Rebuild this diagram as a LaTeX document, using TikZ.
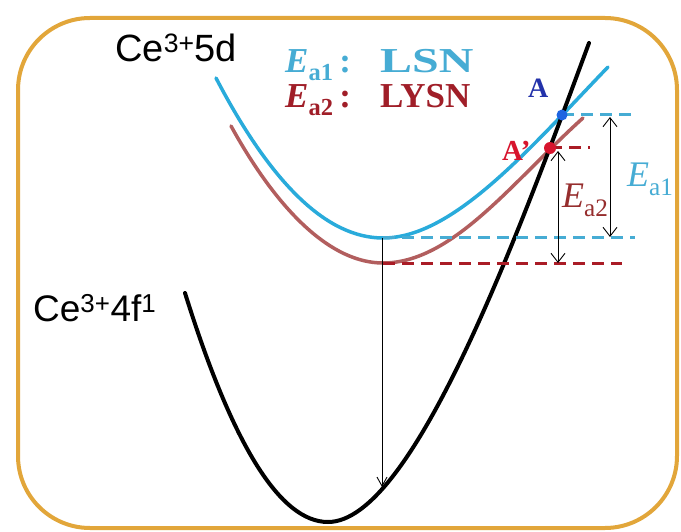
\documentclass[tikz,border=0pt]{standalone}
\usepackage{fontspec}
\usepackage{graphicx}
\setmainfont{Liberation Serif}
\newfontfamily\arialf{Liberation Sans}
\usetikzlibrary{arrows.meta}
\definecolor{frameor}{RGB}{226,166,58}
\definecolor{cyanc}{RGB}{41,171,219}
\definecolor{cyand}{RGB}{70,172,212}
\definecolor{rosec}{RGB}{178,94,94}
\definecolor{redd}{RGB}{170,28,38}
\definecolor{redt}{RGB}{160,30,40}
\definecolor{ea2c}{RGB}{150,45,45}
\definecolor{ablue}{RGB}{35,50,170}
\definecolor{dotblue}{RGB}{30,100,225}
\definecolor{dotred}{RGB}{215,20,45}
\tikzset{
  frame/.style={draw=frameor, line width=4pt, rounded corners=72pt},
  curve/.style={line width=3.5pt, line cap=round},
  dashln/.style={line width=3pt, dash pattern=on 12pt off 7pt},
  dbl/.style={line width=0.9pt, {Straight Barb[length=9pt,width=14pt]}-{Straight Barb[length=9pt,width=14pt]}},
  sgl/.style={line width=0.9pt, -{Straight Barb[length=9pt,width=10pt]}},
  lbl/.style={inner sep=0pt, anchor=base west},
}
\begin{document}
\begin{tikzpicture}[x=1pt,y=-1pt]
\useasboundingbox (0,0) rectangle (681,532);
\fill[white] (0,0) rectangle (681,532);
\draw[frame] (18,18) rectangle (677,528);

% curves
\draw[curve, rosec] (231,126) .. controls (279,213) and (332,263) .. (383,263)
                              .. controls (453,263) and (513,181) .. (583,118);
\draw[curve, cyanc] (216,78) .. controls (271.7,184.7) and (327.3,238) .. (383,238)
                              .. controls (453,238) and (528,150.2) .. (608,67);
\draw[curve, black, line width=4pt] (185,293) .. controls (232.7,445.7) and (280.3,522) .. (328,522)
                              .. controls (413,522) and (519,232) .. (589,43);

% coordinates
\coordinate (bmin) at (383,238);
\coordinate (rmin) at (383,264);
\coordinate (bend) at (635,238);
\coordinate (rend) at (622,264);
\coordinate (A) at (562,115);
\coordinate (Ap) at (550,148);
\coordinate (Aend) at (635,115);
\coordinate (Apend) at (590,148);
\coordinate (e1t) at (610,117);
\coordinate (e1b) at (610,237);
\coordinate (e2t) at (558,151);
\coordinate (e2b) at (558,263);
\coordinate (emt) at (382,238);
\coordinate (emb) at (382,487);

% dashed levels
\draw[dashln, cyand] (bmin) -- (bend);
\draw[dashln, redd] (rmin) -- (rend);
\draw[dashln, cyand] (A) -- (Aend);
\draw[dashln, redd] (Ap) -- (Apend);

% arrows
\draw[dbl] (e1t) -- (e1b);
\draw[dbl] (e2t) -- (e2b);
\draw[sgl] (emt) -- (emb);

% dots
\fill[dotblue] (A) circle (5.5);
\fill[dotred] (Ap) circle (6);

% labels
\node[lbl] (t5d) at (115,62) {\arialf\fontsize{38}{44}\selectfont Ce\textsuperscript{3+}5d};
\node[lbl] (t4f) at (33,322) {\arialf\fontsize{37}{44}\selectfont Ce\textsuperscript{3+}4f\textsuperscript{1}};
\node[lbl, text=cyand] (l1) at (285,73) {\fontsize{35}{40}\selectfont\bfseries\textit{E}\textsubscript{a1}\,:};
\node[lbl, text=cyand] (l1b) at (380,73) {\fontsize{35}{40}\selectfont\bfseries\scalebox{1.37}[1]{LSN}};
\node[lbl, text=redt] (l2) at (285,108) {\fontsize{35}{40}\selectfont\bfseries\textit{E}\textsubscript{a2}\,:};
\node[lbl, text=redt] (l2b) at (380,108) {\fontsize{35}{40}\selectfont\bfseries LYSN};
\node[lbl, text=ablue] (la) at (528,98) {\fontsize{28}{32}\selectfont\bfseries A};
\node[lbl, text=dotred] (lap) at (502,161) {\fontsize{29}{32}\selectfont\bfseries A’};
\node[lbl, text=cyand] (le1) at (627,187) {\fontsize{36}{40}\selectfont\textit{E}\textsubscript{a1}};
\node[lbl, text=ea2c] (le2) at (562,208) {\fontsize{36}{40}\selectfont\textit{E}\textsubscript{a2}};
\end{tikzpicture}
\end{document}
